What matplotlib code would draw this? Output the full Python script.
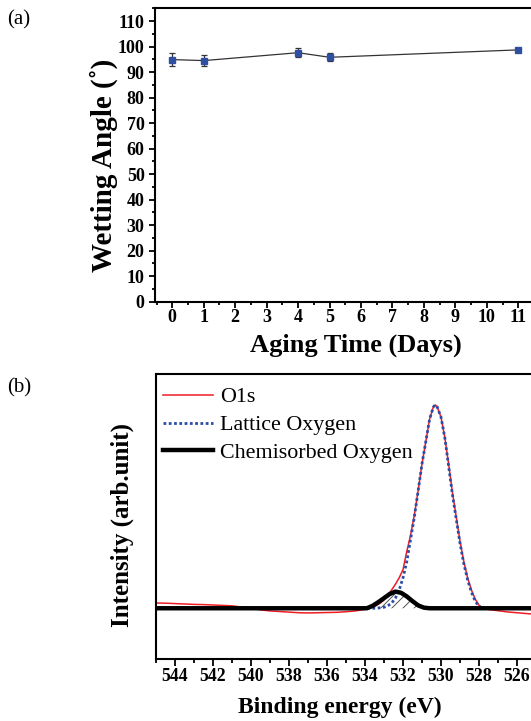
import matplotlib
matplotlib.use("Agg")
import matplotlib.pyplot as plt
from matplotlib.ticker import MultipleLocator

plt.rcParams["font.family"] = ["Liberation Serif", "DejaVu Serif"]
plt.rcParams["hatch.linewidth"] = 0.7

# (a) wetting angle vs aging time
days = [0, 1, 4, 5, 11]
angle = [94.9, 94.5, 97.6, 95.8, 98.7]
angle_err = [2.4, 2.0, 1.7, 1.5, 0.8]

# (b) O1s XPS spectrum (baseline = 0, peak = 1)
o1s_ev = [545, 544.5, 544, 543.5, 543, 542.5, 542, 541.5, 541, 540.5, 540,
          539.5, 539, 538.5, 538, 537.5, 537, 536.5, 536, 535.5, 535, 534.5,
          534, 533.5, 533.2, 533, 532.8, 532.6, 532.4, 532.2, 532, 531.8,
          531.6, 531.4, 531.2, 531, 530.8, 530.6, 530.4, 530.3, 530.2, 530,
          529.8, 529.6, 529.4, 529.2, 529, 528.8, 528.6, 528.4, 528.2, 528,
          527.8, 527.5, 527, 526.5, 526, 525.5, 525, 524.5, 524]
o1s_int = [0.026, 0.025, 0.023, 0.021, 0.019, 0.018, 0.016, 0.014, 0.012,
           0.006, 0.0, -0.008, -0.013, -0.016, -0.019, -0.022, -0.023,
           -0.022, -0.021, -0.020, -0.017, -0.013, -0.005, 0.008, 0.025,
           0.041, 0.065, 0.090, 0.118, 0.150, 0.190, 0.280, 0.360, 0.460,
           0.580, 0.710, 0.820, 0.930, 0.990, 1.0, 0.990, 0.940, 0.840,
           0.710, 0.570, 0.450, 0.330, 0.230, 0.150, 0.090, 0.045, 0.015,
           0.0, -0.006, -0.012, -0.018, -0.022, -0.026, -0.030, -0.034, -0.036]

lattice_ev = [545, 533.4, 533.0, 532.8, 532.6, 532.4, 532.2, 532.0, 531.8,
              531.6, 531.4, 531.2, 531.0, 530.8, 530.6, 530.4, 530.3, 530.2,
              530.0, 529.8, 529.6, 529.4, 529.2, 529.0, 528.8, 528.6, 528.4,
              528.2, 528.0, 527.8, 524]
lattice_int = [0.0, 0.0, 0.005, 0.012, 0.025, 0.05, 0.09, 0.15, 0.23, 0.34,
               0.45, 0.58, 0.71, 0.82, 0.93, 0.99, 1.0, 0.99, 0.94, 0.84,
               0.70, 0.56, 0.44, 0.32, 0.22, 0.14, 0.08, 0.035, 0.01, 0.0, 0.0]

chem_ev = [545, 533.9, 533.6, 533.3, 533.0, 532.7, 532.4, 532.1, 531.8,
           531.5, 531.2, 530.9, 530.6, 524]
chem_int = [0.0, 0.0, 0.012, 0.030, 0.050, 0.070, 0.082, 0.076, 0.058,
            0.035, 0.014, 0.003, 0.0, 0.0]

W, H = 531, 721
fig = plt.figure(figsize=(W / 100, H / 100), dpi=100)


def px_axes(left, top, right, bottom):
    return fig.add_axes([left / W, 1 - bottom / H, (right - left) / W, (bottom - top) / H])


# ---------- panel (a) ----------
ax1 = px_axes(155, 8.3, 155 + 12.55 * 31.45, 301.7)
ax1.errorbar(days, angle, yerr=angle_err, fmt="-s", color="#333333", lw=0.9,
             ms=5, mfc="#2F4FA3", mec="#2F4FA3", ecolor="#333333",
             elinewidth=0.9, capsize=2.2, capthick=0.9)
ax1.set_xlim(-0.55, 12)
ax1.set_ylim(0, 115)
ax1.xaxis.set_major_locator(MultipleLocator(1))
ax1.xaxis.set_minor_locator(MultipleLocator(0.5))
ax1.yaxis.set_major_locator(MultipleLocator(10))
ax1.yaxis.set_minor_locator(MultipleLocator(5))
ax1.set_xticks(range(0, 12))
ax1.tick_params(which="both", direction="out", width=1.3, top=False, right=False)
ax1.tick_params(which="major", length=4.5, labelsize=13)
ax1.tick_params(which="minor", length=2.5)
ax1.tick_params(axis="x", pad=1)
ax1.tick_params(axis="y", pad=3)
for lab in ax1.get_xticklabels() + ax1.get_yticklabels():
    lab.set_fontweight("bold")
for sp in ax1.spines.values():
    sp.set_linewidth(1.5)

ax1.set_xlabel("Aging Time (Days)", fontsize=19, fontweight="bold", va="center")
ax1.xaxis.set_label_coords((356 - 155) / (12.55 * 31.45), (301.7 - 345) / 293.4)
ax1.set_ylabel("Wetting Angle (˚)", fontsize=21, fontweight="bold", va="center")
ax1.yaxis.set_label_coords((104 - 155) / (12.55 * 31.45), (301.7 - 165) / 293.4)

# ---------- panel (b) ----------
ax2 = px_axes(156, 374, 156 + 21 * 19.0, 659.3)
ax2.plot(o1s_ev, o1s_int, color="#EE1C25", lw=1.1, label="O1s", zorder=2)
ax2.plot(lattice_ev, lattice_int, color="#2B4DA8", lw=2.0, ls=(0, (1, 0.9)),
         label="Lattice Oxygen", zorder=3)
ax2.fill_between(chem_ev, chem_int, 0, facecolor="none", edgecolor="#555555",
                 hatch="///", lw=0, zorder=2.5)
ax2.plot(chem_ev, chem_int, color="black", lw=3.2, label="Chemisorbed Oxygen",
         zorder=4)
ax2.set_xlim(545, 524)
ax2.set_ylim(-0.251, 1.152)
ax2.xaxis.set_major_locator(MultipleLocator(2))
ax2.xaxis.set_minor_locator(MultipleLocator(1))
ax2.set_yticks([])
ax2.tick_params(which="both", direction="out", width=1.3, top=False, right=False)
ax2.tick_params(which="major", length=5, labelsize=12.8, pad=1)
ax2.tick_params(which="minor", length=3)
for lab in ax2.get_xticklabels():
    lab.set_fontweight("bold")
for sp in ax2.spines.values():
    sp.set_linewidth(1.5)

ax2.set_xlabel("Binding energy (eV)", fontsize=17, fontweight="bold", va="center")
ax2.xaxis.set_label_coords((340 - 156) / (21 * 19.0), (659.3 - 707) / 285.3)
ax2.set_ylabel("Intensity (arb.unit)", fontsize=18, fontweight="bold", va="center")
ax2.yaxis.set_label_coords((122 - 156) / (21 * 19.0), (659.3 - 525) / 285.3)

ax2.legend(loc="upper left", bbox_to_anchor=((163 - 156) / (21 * 19.0), (659.3 - 387) / 285.3),
           frameon=False, fontsize=15.8, borderpad=0, borderaxespad=0,
           handlelength=2.3, handletextpad=0.3, labelspacing=0.34)

# panel letters
fig.text(7 / W, 1 - 20 / H, "(a)", fontsize=15, va="center", ha="left")
fig.text(7 / W, 1 - 388 / H, "(b)", fontsize=15, va="center", ha="left")

fig.savefig("out.png", dpi=100)
